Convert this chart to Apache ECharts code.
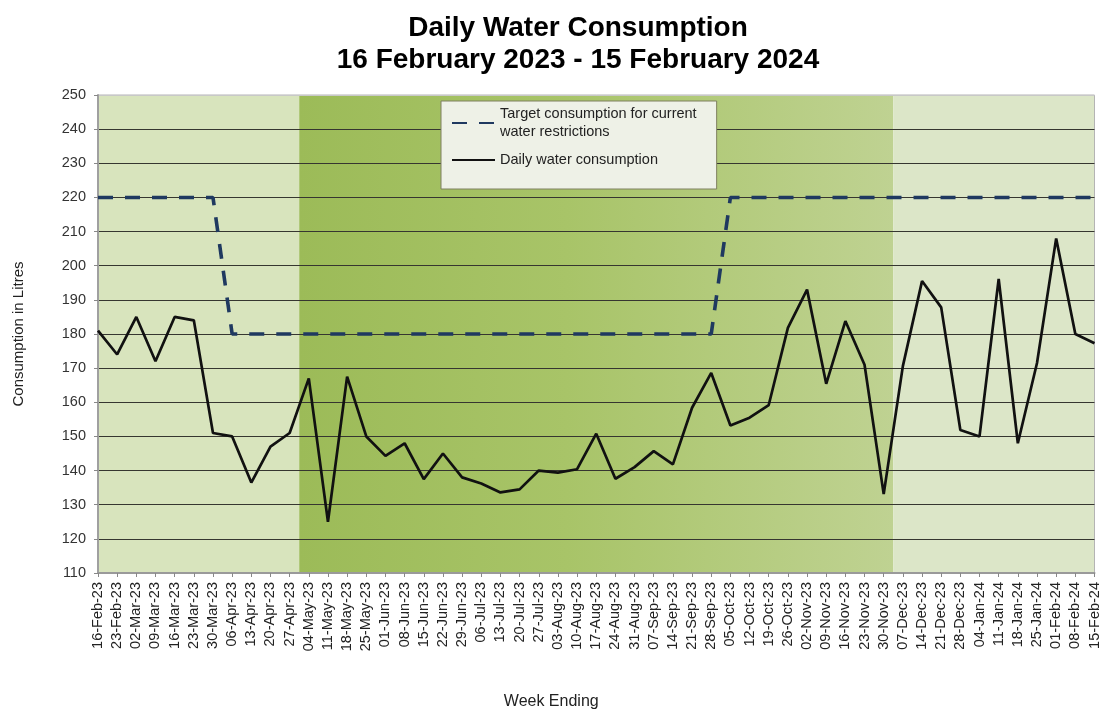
<!DOCTYPE html>
<html>
<head>
<meta charset="utf-8">
<script src="https://cdn.jsdelivr.net/npm/echarts@6/dist/echarts.min.js"></script>
<style>
html,body{margin:0;padding:0;background:#fff;}
#chart{width:1102px;height:715px;}
</style>
</head>
<body>
<div id="chart"></div>
<script>
var weekEnding = ['16-Feb-23','23-Feb-23','02-Mar-23','09-Mar-23','16-Mar-23','23-Mar-23','30-Mar-23','06-Apr-23','13-Apr-23','20-Apr-23','27-Apr-23','04-May-23','11-May-23','18-May-23','25-May-23','01-Jun-23','08-Jun-23','15-Jun-23','22-Jun-23','29-Jun-23','06-Jul-23','13-Jul-23','20-Jul-23','27-Jul-23','03-Aug-23','10-Aug-23','17-Aug-23','24-Aug-23','31-Aug-23','07-Sep-23','14-Sep-23','21-Sep-23','28-Sep-23','05-Oct-23','12-Oct-23','19-Oct-23','26-Oct-23','02-Nov-23','09-Nov-23','16-Nov-23','23-Nov-23','30-Nov-23','07-Dec-23','14-Dec-23','21-Dec-23','28-Dec-23','04-Jan-24','11-Jan-24','18-Jan-24','25-Jan-24','01-Feb-24','08-Feb-24','15-Feb-24'];
var dailyConsumption = [181,174,185,172,185,184,151,150,136.5,147,151,167,125,167.5,150,144.3,148,137.5,145,138,136.2,133.6,134.5,140,139.4,140.4,150.8,137.6,141,145.7,141.8,158.4,168.6,153.2,155.5,159.2,181.8,193,165.4,183.8,171,133.1,170.6,195.5,187.8,151.9,150,196.1,148,171.5,208,180,177.3];
var targetConsumption = [220,220,220,220,220,220,220,180,180,180,180,180,180,180,180,180,180,180,180,180,180,180,180,180,180,180,180,180,180,180,180,180,180,220,220,220,220,220,220,220,220,220,220,220,220,220,220,220,220,220,220,220,220];
var yTicks = {min:110, max:250, step:10};
var bandEdges = [0, 10.5, 41.5, 52];
var seriesNames = ['Target consumption for current\nwater restrictions', 'Daily water consumption'];

function pairs(arr){ return arr.map(function(v,i){ return [i, v]; }); }

var splitColors = [];
for (var k = yTicks.min; k <= yTicks.max; k += yTicks.step) {
  splitColors.push(k === yTicks.max ? '#c8c8c8' : '#363630');
}

var chart = echarts.init(document.getElementById('chart'), null, {renderer:'canvas'});
var font = 'Liberation Sans, Arial, sans-serif';
chart.setOption({
  backgroundColor: '#ffffff',
  animation: false,
  title: {
    text: 'Daily Water Consumption\n16 February 2023 - 15 February 2024',
    left: 578, top: 12, padding: 0, textAlign: 'center',
    textStyle: {fontSize: 28, fontWeight: 'bold', fontFamily: font, color: '#000', lineHeight: 32}
  },
  legend: {
    orient: 'vertical', left: 441, top: 101,
    padding: [4, 20, 20, 10], itemGap: 10,
    itemWidth: 43, itemHeight: 14, itemTextGap: 5,
    backgroundColor: '#eef1e7', borderColor: '#7f8060', borderWidth: 1,
    itemStyle: {opacity: 0},
    data: seriesNames,
    textStyle: {fontSize: 14.5, fontFamily: font, color: '#222', lineHeight: 18}
  },
  grid: {left: 98, right: 6, top: 95, bottom: 141, show: true, backgroundColor: 'transparent', borderColor: '#b4b4b4', borderWidth: 1},
  xAxis: {
    type: 'value', min: 0, max: weekEnding.length - 1, interval: 1,
    name: 'Week Ending', nameLocation: 'middle', nameGap: 121,
    nameTextStyle: {fontSize: 16, fontFamily: font, color: '#222', padding: [0, 90, 0, 0]},
    axisLine: {show: true, lineStyle: {color: '#9a9a9a', width: 2}},
    axisTick: {show: true, length: 4, lineStyle: {color: '#888'}},
    splitLine: {show: false},
    axisLabel: {
      rotate: 90, margin: 9, fontSize: 14.5, fontFamily: font, color: '#222',
      formatter: function(v){ return weekEnding[v] || ''; }
    }
  },
  yAxis: {
    type: 'value', min: yTicks.min, max: yTicks.max, interval: yTicks.step,
    name: 'Consumption in Litres', nameLocation: 'middle', nameGap: 72, nameRotate: 90,
    nameTextStyle: {fontSize: 15, fontFamily: font, color: '#222'},
    axisLine: {show: true, lineStyle: {color: '#a0a0a0', width: 2}},
    axisTick: {show: true, length: 4, lineStyle: {color: '#888'}},
    axisLabel: {margin: 12, fontSize: 14.5, fontFamily: font, color: '#333'},
    splitLine: {show: true, lineStyle: {color: splitColors, width: 1.2}}
  },
  series: [
    {
      name: 'bands', type: 'line', z: -2, silent: true, symbol: 'none',
      data: pairs(targetConsumption), lineStyle: {opacity: 0},
      markArea: {
        silent: true, z: -2,
        data: [
          [{xAxis: bandEdges[0], itemStyle: {color: '#d8e4bd'}}, {xAxis: bandEdges[1]}],
          [{xAxis: bandEdges[1], itemStyle: {color: new echarts.graphic.LinearGradient(0,0,1,0,[
            {offset: 0, color: '#9cbb58'}, {offset: 0.45, color: '#a8c468'}, {offset: 1, color: '#bfd292'}])}}, {xAxis: bandEdges[2]}],
          [{xAxis: bandEdges[2], itemStyle: {color: '#dce6c8'}}, {xAxis: bandEdges[3]}]
        ]
      }
    },
    {
      name: seriesNames[0], type: 'line', symbol: 'none', z: 3,
      data: pairs(targetConsumption),
      lineStyle: {color: '#1f3960', width: 3.6, type: [15, 12]},
      itemStyle: {color: '#1f3960'}
    },
    {
      name: seriesNames[1], type: 'line', symbol: 'none', z: 4,
      data: pairs(dailyConsumption),
      lineStyle: {color: '#111111', width: 2.7},
      itemStyle: {color: '#111111'}
    }
  ]
});
</script>
</body>
</html>
